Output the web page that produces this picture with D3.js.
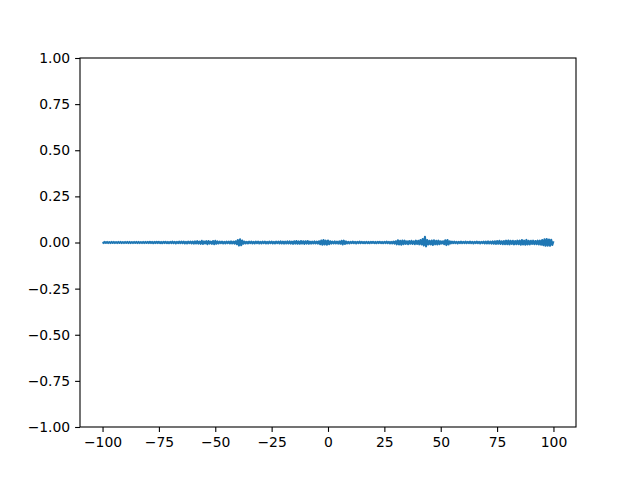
<!DOCTYPE html>
<html>
<head>
<meta charset="utf-8">
<style>
body { margin: 0; background: #fff; }
.tick text { font-size: 13.9px; fill: #000; }
.tick line { stroke: #000; stroke-width: 1.1; }
.domain { display: none; }
</style>
</head>
<body>
<svg id="chart" width="640" height="480"></svg>
<script src="https://d3js.org/d3.v7.min.js"></script>
<script>
// sample grid: -100 to 100 every 0.5
const xs = d3.range(-100, 100.25, 0.5);
// signal values, one per sample
const ys = [
    0.002,-0.003,0.003,-0.002,0.003,-0.003,0.002,-0.003,0.003,-0.002,
    0.003,-0.003,0.002,-0.003,0.003,-0.002,0.003,-0.003,0.002,-0.003,
    0.003,-0.002,0.003,-0.003,0.003,-0.003,0.002,-0.003,0.003,-0.002,
    0.003,-0.003,0.003,-0.003,0.002,-0.003,0.003,-0.003,0.003,-0.002,
    0.003,-0.003,0.004,-0.003,0.003,-0.004,0.003,-0.003,0.004,-0.003,
    0.004,-0.004,0.003,-0.004,0.004,-0.003,0.004,-0.004,0.003,-0.004,
    0.004,-0.004,0.005,-0.004,0.004,-0.005,0.004,-0.004,0.005,-0.004,
    0.005,-0.004,0.005,-0.005,0.004,-0.005,0.005,-0.004,0.005,-0.005,
    0.005,-0.006,0.006,-0.005,0.007,-0.006,0.005,-0.007,0.009,-0.008,
    0.006,-0.005,0.007,-0.009,0.008,-0.006,0.005,-0.007,0.008,-0.009,
    0.009,-0.007,0.006,-0.005,0.005,-0.004,0.005,-0.005,0.004,-0.005,
    0.005,-0.004,0.005,-0.005,0.006,-0.005,0.005,-0.006,0.007,-0.009,
    0.013,-0.016,0.017,-0.015,0.011,-0.007,0.005,-0.005,0.004,-0.005,
    0.005,-0.004,0.005,-0.005,0.004,-0.005,0.005,-0.004,0.005,-0.005,
    0.004,-0.005,0.005,-0.004,0.005,-0.005,0.004,-0.005,0.005,-0.004,
    0.005,-0.005,0.004,-0.005,0.005,-0.004,0.005,-0.005,0.006,-0.005,
    0.005,-0.006,0.005,-0.005,0.006,-0.005,0.006,-0.006,0.005,-0.007,
    0.007,-0.006,0.008,-0.007,0.006,-0.007,0.008,-0.006,0.007,-0.008,
    0.007,-0.006,0.008,-0.007,0.005,-0.006,0.005,-0.005,0.006,-0.005,
    0.005,-0.006,0.007,-0.009,0.011,-0.012,0.013,-0.011,0.010,-0.012,
    0.011,-0.009,0.007,-0.006,0.005,-0.005,0.006,-0.005,0.005,-0.006,
    0.006,-0.007,0.009,-0.011,0.010,-0.008,0.006,-0.005,0.004,-0.005,
    0.004,-0.004,0.005,-0.004,0.004,-0.005,0.004,-0.004,0.005,-0.004,
    0.004,-0.004,0.003,-0.004,0.004,-0.004,0.003,-0.004,0.004,-0.003,
    0.004,-0.004,0.003,-0.004,0.004,-0.003,0.004,-0.004,0.003,-0.004,
    0.004,-0.004,0.005,-0.004,0.004,-0.005,0.004,-0.005,0.005,-0.006,
    0.007,-0.010,0.012,-0.011,0.009,-0.012,0.011,-0.009,0.010,-0.008,
    0.007,-0.009,0.008,-0.007,0.009,-0.008,0.007,-0.009,0.010,-0.008,
    0.009,-0.010,0.013,-0.011,0.019,-0.016,0.031,-0.021,0.013,-0.011,
    0.009,-0.010,0.011,-0.013,0.012,-0.010,0.009,-0.011,0.010,-0.009,
    0.007,-0.006,0.007,-0.009,0.012,-0.014,0.013,-0.011,0.007,-0.005,
    0.005,-0.004,0.005,-0.004,0.004,-0.005,0.004,-0.004,0.005,-0.004,
    0.004,-0.004,0.005,-0.004,0.004,-0.004,0.005,-0.004,0.004,-0.005,
    0.004,-0.004,0.005,-0.004,0.004,-0.005,0.004,-0.004,0.005,-0.005,
    0.005,-0.005,0.006,-0.005,0.005,-0.006,0.006,-0.007,0.007,-0.008,
    0.008,-0.007,0.009,-0.008,0.007,-0.009,0.008,-0.009,0.010,-0.009,
    0.011,-0.010,0.009,-0.008,0.009,-0.010,0.008,-0.009,0.010,-0.009,
    0.010,-0.012,0.013,-0.011,0.010,-0.012,0.014,-0.011,0.009,-0.010,
    0.009,-0.008,0.010,-0.009,0.008,-0.009,0.010,-0.011,0.010,-0.012,
    0.013,-0.015,0.017,-0.018,0.019,-0.017,0.016,-0.018,0.015,-0.013,
    0.007
];
const x_ticks = [-100, -75, -50, -25, 0, 25, 50, 75, 100];
const y_ticks = [-1, -0.75, -0.5, -0.25, 0, 0.25, 0.5, 0.75, 1];

const plot_left = 80, plot_right = 576, plot_top = 58, plot_bottom = 427;
const svg = d3.select("#chart");

const x = d3.scaleLinear().domain([-110, 110]).range([plot_left, plot_right]);
const y = d3.scaleLinear().domain([-1, 1]).range([plot_bottom, plot_top]);

const minus = s => s.replace("-", "\u2212");

svg.append("g")
    .attr("transform", "translate(0," + plot_bottom + ")")
    .call(d3.axisBottom(x).tickValues(x_ticks).tickSize(4.9).tickPadding(4.9)
        .tickFormat(d => minus(d3.format("d")(d))))
    .attr("font-family", "DejaVu Sans")
    .attr("font-size", 13.9);

svg.append("g")
    .attr("transform", "translate(" + plot_left + ",0)")
    .call(d3.axisLeft(y).tickValues(y_ticks).tickSize(4.9).tickPadding(4.9)
        .tickFormat(d => minus(d3.format(".2f")(d))))
    .attr("font-family", "DejaVu Sans")
    .attr("font-size", 13.9);

const line = d3.line()
    .x((d, i) => x(xs[i]))
    .y(d => y(d));

svg.append("path")
    .datum(ys)
    .attr("d", line)
    .style("fill", "none")
    .style("stroke", "#1f77b4")
    .style("stroke-width", 2.08)
    .style("stroke-linejoin", "round");

svg.append("rect")
    .attr("x", plot_left)
    .attr("y", plot_top)
    .attr("width", plot_right - plot_left)
    .attr("height", plot_bottom - plot_top)
    .style("fill", "none")
    .style("stroke", "#000")
    .style("stroke-width", 1.1);
</script>
</body>
</html>
